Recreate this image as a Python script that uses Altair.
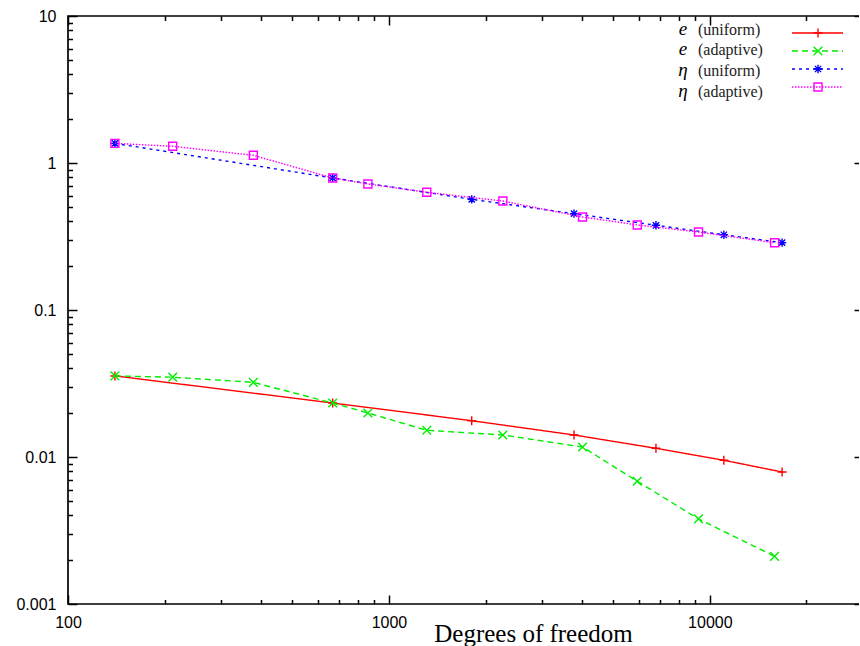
import altair as alt
import pandas as pd

# ---------------- data ----------------
series = ["e_uni", "e_ada", "eta_uni", "eta_ada"]
symbols = ["e", "e", "η", "η"]
words = ["(uniform)", "(adaptive)", "(uniform)", "(adaptive)"]

dof_uniform = [140, 668, 1811, 3773, 6792, 11055, 16790]
e_uniform = [0.0356, 0.0233, 0.01766, 0.01412, 0.01146, 0.0095, 0.00791]
eta_uniform = [1.36, 0.791, 0.566, 0.452, 0.377, 0.325, 0.287]

dof_adaptive = [140, 212, 378, 668, 860, 1312, 2264, 4011, 5938, 9216, 15910]
e_adaptive = [0.0356, 0.0349, 0.0322, 0.0233, 0.01993, 0.0152, 0.01412, 0.0117, 0.00684, 0.00379, 0.00211]
eta_adaptive = [1.36, 1.299, 1.128, 0.791, 0.72, 0.632, 0.551, 0.429, 0.379, 0.339, 0.287]

x_major = [100, 1000, 10000]
x_minor = [m * d for d in [100, 1000, 10000] for m in range(1, 10)] + [20000]
y_major = [0.001, 0.01, 0.1, 1, 10]
y_minor = [round(m * d, 6) for d in [0.001, 0.01, 0.1, 1] for m in range(1, 10)] + [10]

# ---------------- tables ----------------
rows = []
for s, xs, ys in [("e_uni", dof_uniform, e_uniform),
                  ("e_ada", dof_adaptive, e_adaptive),
                  ("eta_uni", dof_uniform, eta_uniform),
                  ("eta_ada", dof_adaptive, eta_adaptive)]:
    for xv, yv in zip(xs, ys):
        rows.append({"series": s, "dof": xv, "val": yv})
df = pd.DataFrame(rows)

leg = pd.DataFrame({"series": series, "sym": symbols, "word": words,
                    "row": list(range(len(series)))})

# ---------------- styles ----------------
W, H = 795, 588
colors = ["#ff0000", "#00ee00", "#0000ff", "#ff00ff"]
dashes = [[1, 0], [6, 4], [3, 4], [1.5, 1.5]]
plus = "M-1,0L1,0M0,-1L0,1"
xmark = "M-1,-1L1,1M-1,1L1,-1"
star = plus + "M-0.75,-0.75L0.75,0.75M-0.75,0.75L0.75,-0.75"
shapes = [plus, xmark, star, "square"]
sizes = [81, 64, 81, 90]

xscale = alt.Scale(type="log", domain=[100, 30000], nice=False)
yscale = alt.Scale(type="log", domain=[0.001, 10], nice=False)
cscale = alt.Scale(domain=series, range=colors)
dscale = alt.Scale(domain=series, range=dashes)
sscale = alt.Scale(domain=series, range=shapes)
zscale = alt.Scale(domain=series, range=sizes)

major_test = "abs(log(datum.value)/LN10 - round(log(datum.value)/LN10)) < 0.001"
tick_size = {"condition": {"test": major_test, "value": 9}, "value": 4.5}


def tick_axis(orient, offset, values):
    return alt.Axis(orient=orient, offset=offset, values=values, labels=False,
                    domain=False, grid=False, title=None, ticks=True,
                    tickColor="black", tickWidth=1.5, tickSize=tick_size)


layers = []

# main label axes (no ticks)
x_label_axis = alt.Axis(orient="bottom", values=x_major, format="d", ticks=False,
                        tickSize=0, domain=False, grid=False, labelFlush=False,
                        labelFont="Liberation Sans", labelFontSize=16,
                        labelColor="black", labelPadding=10,
                        title="Degrees of freedom", titleFont="Liberation Serif",
                        titleFontSize=25, titleFontWeight="normal", titleColor="black",
                        titleX=465, titleY=37, titleAlign="center",
                        titleBaseline="alphabetic")
y_label_axis = alt.Axis(orient="left", values=y_major, format="~g", ticks=False,
                        tickSize=0, domain=False, grid=False, labelFlush=False,
                        labelFont="Liberation Sans", labelFontSize=16,
                        labelColor="black", labelPadding=12, title=None)

base_axes = alt.Chart(df).mark_point(opacity=0).encode(
    x=alt.X("dof:Q", scale=xscale, axis=x_label_axis),
    y=alt.Y("val:Q", scale=yscale, axis=y_label_axis),
)
layers.append(base_axes)

# inward ticks on all four sides
ticks_a = alt.Chart(df).mark_point(opacity=0).encode(
    x=alt.X("dof:Q", scale=xscale, axis=tick_axis("top", -H, x_minor)),
    y=alt.Y("val:Q", scale=yscale, axis=tick_axis("right", -W, y_minor)),
)
ticks_b = alt.Chart(df).mark_point(opacity=0).encode(
    x=alt.X("dof:Q", scale=xscale, axis=tick_axis("bottom", -H, x_minor)),
    y=alt.Y("val:Q", scale=yscale, axis=tick_axis("left", -W, y_minor)),
)
layers += [ticks_a, ticks_b]

# data series
for s in series:
    sub = alt.Chart(df).transform_filter(alt.datum.series == s)
    line = sub.mark_line(strokeWidth=1.4, clip=True).encode(
        x=alt.X("dof:Q", scale=xscale, axis=None),
        y=alt.Y("val:Q", scale=yscale, axis=None),
        color=alt.Color("series:N", scale=cscale, legend=None),
        strokeDash=alt.StrokeDash("series:N", scale=dscale, legend=None),
    )
    pts = sub.mark_point(filled=False, strokeWidth=1.4, opacity=1).encode(
        x=alt.X("dof:Q", scale=xscale, axis=None),
        y=alt.Y("val:Q", scale=yscale, axis=None),
        color=alt.Color("series:N", scale=cscale, legend=None),
        shape=alt.Shape("series:N", scale=sscale, legend=None),
        size=alt.Size("series:N", scale=zscale, legend=None),
    )
    layers += [line, pts]

# key (top right), positions relative to the plot area
lg = alt.Chart(leg).transform_calculate(
    ly="17 + 18*datum.row", ty="18.5 + 20.7*datum.row"
)
key_lines = lg.mark_rule(strokeWidth=1.4).encode(
    x=alt.value(724), x2=alt.value(775),
    y=alt.Y("ly:Q", scale=None, axis=None),
    color=alt.Color("series:N", scale=cscale, legend=None),
    strokeDash=alt.StrokeDash("series:N", scale=dscale, legend=None),
)
key_pts = lg.mark_point(filled=False, strokeWidth=1.4, opacity=1).encode(
    x=alt.value(750),
    y=alt.Y("ly:Q", scale=None, axis=None),
    color=alt.Color("series:N", scale=cscale, legend=None),
    shape=alt.Shape("series:N", scale=sscale, legend=None),
    size=alt.Size("series:N", scale=zscale, legend=None),
)
key_sym = lg.mark_text(font="Liberation Serif", fontStyle="italic", fontSize=19,
                       align="center", baseline="alphabetic", color="black").encode(
    x=alt.value(615), y=alt.Y("ty:Q", scale=None, axis=None), text="sym:N")
key_word = lg.mark_text(font="Liberation Serif", fontSize=16, align="left",
                        baseline="alphabetic", color="#222222").encode(
    x=alt.value(630), y=alt.Y("ty:Q", scale=None, axis=None), text="word:N")
layers += [key_lines, key_pts, key_sym, key_word]

chart = alt.layer(*layers).resolve_axis(
    x="independent", y="independent"
).properties(
    width=W, height=H, autosize="none",
    padding={"left": 68, "top": 16, "right": -4, "bottom": 42},
    background="white",
).configure_view(stroke="black", strokeWidth=1.7)

chart.save("out.html", embed_options={"renderer": "svg", "actions": False})
